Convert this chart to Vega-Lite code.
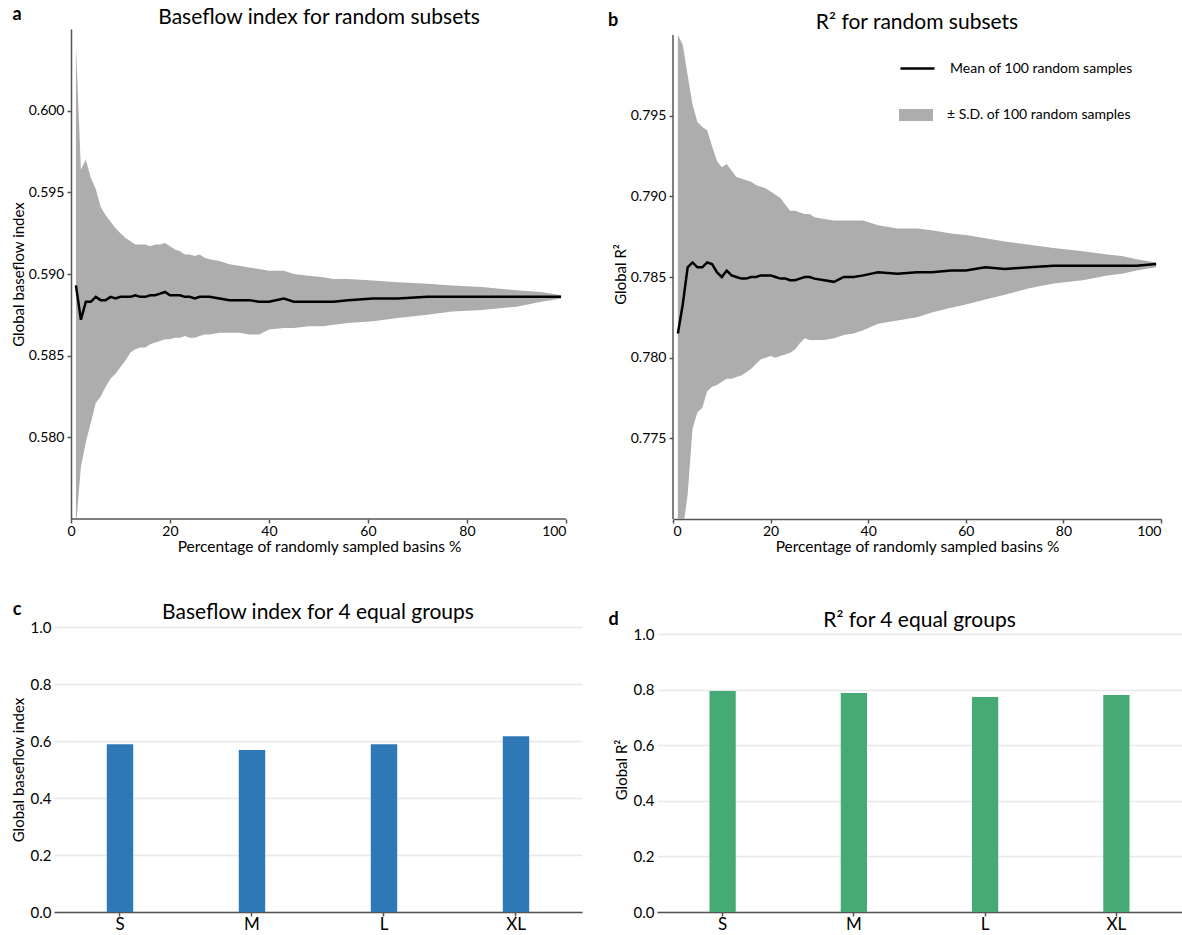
{
  "$schema": "https://vega.github.io/schema/vega-lite/v6.json",
  "background": "white",
  "padding": {"left": 11, "top": 6, "right": 0, "bottom": 0},
  "config": {
    "font": "Lato",
    "view": {"stroke": null},
    "axis": {"labelFont": "Lato", "titleFont": "Lato", "labelColor": "#000", "titleColor": "#000", "titleFontWeight": "normal", "domainColor": "#555", "tickColor": "#555", "domainWidth": 1.5, "tickWidth": 1.5, "tickSize": 4, "labelFontSize": 14, "titleFontSize": 16, "grid": false},
    "title": {"font": "Lato", "fontWeight": "normal", "color": "#000", "fontSize": 21, "anchor": "middle"},
    "legend": {"labelFont": "Lato"}
  },
  "datasets": {
    "a": [
      {"x": 1, "mean": 0.5893, "lo": 0.5745, "hi": 0.6040},
      {"x": 2, "mean": 0.5872, "lo": 0.5782, "hi": 0.5964},
      {"x": 3, "mean": 0.5883, "lo": 0.5797, "hi": 0.5970},
      {"x": 4, "mean": 0.5883, "lo": 0.5809, "hi": 0.5959},
      {"x": 5, "mean": 0.5886, "lo": 0.5821, "hi": 0.5952},
      {"x": 6, "mean": 0.5884, "lo": 0.5825, "hi": 0.5941},
      {"x": 7, "mean": 0.5884, "lo": 0.5831, "hi": 0.5936},
      {"x": 8, "mean": 0.5886, "lo": 0.5836, "hi": 0.5932},
      {"x": 9, "mean": 0.5885, "lo": 0.5839, "hi": 0.5928},
      {"x": 10, "mean": 0.5886, "lo": 0.5843, "hi": 0.5925},
      {"x": 11, "mean": 0.5886, "lo": 0.5847, "hi": 0.5922},
      {"x": 12, "mean": 0.5886, "lo": 0.5852, "hi": 0.5920},
      {"x": 13, "mean": 0.5887, "lo": 0.5854, "hi": 0.5918},
      {"x": 14, "mean": 0.5886, "lo": 0.5855, "hi": 0.5918},
      {"x": 15, "mean": 0.5886, "lo": 0.5855, "hi": 0.5918},
      {"x": 16, "mean": 0.5887, "lo": 0.5857, "hi": 0.5917},
      {"x": 17, "mean": 0.5887, "lo": 0.5858, "hi": 0.5918},
      {"x": 18, "mean": 0.5888, "lo": 0.5859, "hi": 0.5918},
      {"x": 19, "mean": 0.5889, "lo": 0.5860, "hi": 0.5919},
      {"x": 20, "mean": 0.5887, "lo": 0.5860, "hi": 0.5917},
      {"x": 21, "mean": 0.5887, "lo": 0.5861, "hi": 0.5915},
      {"x": 22, "mean": 0.5887, "lo": 0.5861, "hi": 0.5914},
      {"x": 23, "mean": 0.5886, "lo": 0.5862, "hi": 0.5912},
      {"x": 24, "mean": 0.5886, "lo": 0.5861, "hi": 0.5912},
      {"x": 25, "mean": 0.5885, "lo": 0.5861, "hi": 0.5911},
      {"x": 26, "mean": 0.5886, "lo": 0.5862, "hi": 0.5912},
      {"x": 27, "mean": 0.5886, "lo": 0.5863, "hi": 0.5910},
      {"x": 28, "mean": 0.5886, "lo": 0.5863, "hi": 0.5909},
      {"x": 30, "mean": 0.5885, "lo": 0.5864, "hi": 0.5908},
      {"x": 32, "mean": 0.5884, "lo": 0.5864, "hi": 0.5906},
      {"x": 34, "mean": 0.5884, "lo": 0.5864, "hi": 0.5905},
      {"x": 36, "mean": 0.5884, "lo": 0.5863, "hi": 0.5904},
      {"x": 38, "mean": 0.5883, "lo": 0.5863, "hi": 0.5903},
      {"x": 40, "mean": 0.5883, "lo": 0.5866, "hi": 0.5902},
      {"x": 43, "mean": 0.5885, "lo": 0.5867, "hi": 0.5902},
      {"x": 45, "mean": 0.5883, "lo": 0.5867, "hi": 0.5900},
      {"x": 48, "mean": 0.5883, "lo": 0.5868, "hi": 0.5899},
      {"x": 51, "mean": 0.5883, "lo": 0.5868, "hi": 0.5898},
      {"x": 53, "mean": 0.5883, "lo": 0.5869, "hi": 0.5897},
      {"x": 56, "mean": 0.5884, "lo": 0.5870, "hi": 0.5897},
      {"x": 61, "mean": 0.5885, "lo": 0.5871, "hi": 0.5896},
      {"x": 66, "mean": 0.5885, "lo": 0.5873, "hi": 0.5895},
      {"x": 72, "mean": 0.5886, "lo": 0.5875, "hi": 0.5894},
      {"x": 77, "mean": 0.5886, "lo": 0.5877, "hi": 0.5893},
      {"x": 83, "mean": 0.5886, "lo": 0.5878, "hi": 0.5892},
      {"x": 90, "mean": 0.5886, "lo": 0.5880, "hi": 0.5890},
      {"x": 95, "mean": 0.5886, "lo": 0.5883, "hi": 0.5889},
      {"x": 99, "mean": 0.5886, "lo": 0.5885, "hi": 0.5887}
    ],
    "b": [
      {"x": 1, "mean": 0.7815, "lo": 0.7690, "hi": 0.8000},
      {"x": 2, "mean": 0.7833, "lo": 0.7693, "hi": 0.7994},
      {"x": 3, "mean": 0.7856, "lo": 0.7715, "hi": 0.7975},
      {"x": 4, "mean": 0.7859, "lo": 0.7756, "hi": 0.7957},
      {"x": 5, "mean": 0.7856, "lo": 0.7766, "hi": 0.7946},
      {"x": 6, "mean": 0.7856, "lo": 0.7769, "hi": 0.7943},
      {"x": 7, "mean": 0.7859, "lo": 0.7779, "hi": 0.7941},
      {"x": 8, "mean": 0.7858, "lo": 0.7782, "hi": 0.7931},
      {"x": 9, "mean": 0.7853, "lo": 0.7783, "hi": 0.7922},
      {"x": 10, "mean": 0.7850, "lo": 0.7785, "hi": 0.7918},
      {"x": 11, "mean": 0.7854, "lo": 0.7787, "hi": 0.7920},
      {"x": 12, "mean": 0.7851, "lo": 0.7787, "hi": 0.7916},
      {"x": 13, "mean": 0.7850, "lo": 0.7788, "hi": 0.7912},
      {"x": 14, "mean": 0.7849, "lo": 0.7789, "hi": 0.7911},
      {"x": 15, "mean": 0.7849, "lo": 0.7791, "hi": 0.7910},
      {"x": 16, "mean": 0.7850, "lo": 0.7793, "hi": 0.7909},
      {"x": 17, "mean": 0.7850, "lo": 0.7796, "hi": 0.7907},
      {"x": 18, "mean": 0.7851, "lo": 0.7799, "hi": 0.7906},
      {"x": 19, "mean": 0.7851, "lo": 0.7800, "hi": 0.7905},
      {"x": 20, "mean": 0.7851, "lo": 0.7801, "hi": 0.7903},
      {"x": 21, "mean": 0.7850, "lo": 0.7800, "hi": 0.7901},
      {"x": 22, "mean": 0.7849, "lo": 0.7801, "hi": 0.7899},
      {"x": 23, "mean": 0.7849, "lo": 0.7802, "hi": 0.7895},
      {"x": 24, "mean": 0.7848, "lo": 0.7803, "hi": 0.7891},
      {"x": 25, "mean": 0.7848, "lo": 0.7805, "hi": 0.7891},
      {"x": 26, "mean": 0.7849, "lo": 0.7809, "hi": 0.7890},
      {"x": 27, "mean": 0.7850, "lo": 0.7812, "hi": 0.7889},
      {"x": 28, "mean": 0.7850, "lo": 0.7811, "hi": 0.7889},
      {"x": 29, "mean": 0.7849, "lo": 0.7811, "hi": 0.7887},
      {"x": 31, "mean": 0.7848, "lo": 0.7811, "hi": 0.7886},
      {"x": 33, "mean": 0.7847, "lo": 0.7812, "hi": 0.7885},
      {"x": 35, "mean": 0.7850, "lo": 0.7814, "hi": 0.7885},
      {"x": 37, "mean": 0.7850, "lo": 0.7815, "hi": 0.7885},
      {"x": 39, "mean": 0.7851, "lo": 0.7817, "hi": 0.7885},
      {"x": 42, "mean": 0.7853, "lo": 0.7821, "hi": 0.7882},
      {"x": 46, "mean": 0.7852, "lo": 0.7823, "hi": 0.7880},
      {"x": 50, "mean": 0.7853, "lo": 0.7825, "hi": 0.7880},
      {"x": 53, "mean": 0.7853, "lo": 0.7828, "hi": 0.7879},
      {"x": 57, "mean": 0.7854, "lo": 0.7831, "hi": 0.7877},
      {"x": 60, "mean": 0.7854, "lo": 0.7833, "hi": 0.7876},
      {"x": 64, "mean": 0.7856, "lo": 0.7836, "hi": 0.7874},
      {"x": 68, "mean": 0.7855, "lo": 0.7839, "hi": 0.7872},
      {"x": 73, "mean": 0.7856, "lo": 0.7843, "hi": 0.7870},
      {"x": 78, "mean": 0.7857, "lo": 0.7846, "hi": 0.7868},
      {"x": 84, "mean": 0.7857, "lo": 0.7848, "hi": 0.7866},
      {"x": 89, "mean": 0.7857, "lo": 0.7851, "hi": 0.7864},
      {"x": 92, "mean": 0.7857, "lo": 0.7852, "hi": 0.7863},
      {"x": 95, "mean": 0.7857, "lo": 0.7854, "hi": 0.7861},
      {"x": 99, "mean": 0.7858, "lo": 0.7856, "hi": 0.7859}
    ],
    "c": [
      {"group": "S", "value": 0.589},
      {"group": "M", "value": 0.568},
      {"group": "L", "value": 0.589},
      {"group": "XL", "value": 0.617}
    ],
    "d": [
      {"group": "S", "value": 0.795},
      {"group": "M", "value": 0.788},
      {"group": "L", "value": 0.773},
      {"group": "XL", "value": 0.781}
    ]
  },
  "resolve": {"scale": {"color": "independent", "fill": "independent"}, "legend": {"color": "independent", "fill": "independent"}},
  "columns": 1,
  "align": "none",
  "spacing": 46,
  "concat": [
    {
      "columns": 2,
      "align": "none",
      "spacing": 40,
      "resolve": {"scale": {"color": "independent", "fill": "independent"}, "legend": {"color": "independent", "fill": "independent"}},
      "concat": [
        {
          "width": 512,
          "height": 490,
          "title": {"text": "Baseflow index for random subsets", "offset": -22, "dx": 9},
          "layer": [
            {
              "data": {"name": "a"},
              "mark": {"type": "area", "color": "#adadad", "clip": true},
              "encoding": {
                "x": {"field": "x", "type": "quantitative", "scale": {"domain": [-3.434, 100], "nice": false},
                      "axis": {"title": "Percentage of randomly sampled basins %", "values": [0, 20, 40, 60, 80, 100], "domain": false, "titleFontSize": 15.5, "titlePadding": 1, "labelPadding": 1, "titleX": 265}},
                "y": {"field": "lo", "type": "quantitative", "scale": {"domain": [0.575, 0.605], "zero": false, "nice": false},
                      "axis": {"title": "Global baseflow index", "values": [0.58, 0.585, 0.59, 0.595, 0.6], "format": ".3f", "offset": -17, "titlePadding": 2, "labelPadding": 3, "titleFontSize": 15}},
                "y2": {"field": "hi"}
              }
            },
            {
              "data": {"name": "a"},
              "mark": {"type": "line", "color": "black", "strokeWidth": 2.5, "clip": true},
              "encoding": {
                "x": {"field": "x", "type": "quantitative"},
                "y": {"field": "mean", "type": "quantitative"}
              }
            },
            {
              "data": {"values": [{"edge": "bottom"}]},
              "mark": {"type": "rule", "color": "#555", "strokeWidth": 1.5},
              "encoding": {
                "x": {"datum": 0, "type": "quantitative"},
                "x2": {"datum": 100},
                "y": {"datum": 0.575, "type": "quantitative"}
              }
            },
            {
              "data": {"values": [{"panel": "a"}]},
              "mark": {"type": "text", "fontWeight": "bold", "fontSize": 18, "dx": -54, "dy": -14, "align": "center", "baseline": "middle"},
              "encoding": {
                "x": {"datum": 0, "type": "quantitative"},
                "y": {"datum": 0.605, "type": "quantitative"},
                "text": {"field": "panel"}
              }
            }
          ]
        },
        {
          "width": 488,
          "height": 490,
          "title": {"text": "R² for random subsets", "offset": -21},
          "layer": [
            {
              "data": {"name": "b"},
              "mark": {"type": "area", "clip": true, "opacity": 1},
              "encoding": {
                "x": {"field": "x", "type": "quantitative", "scale": {"domain": [0, 100], "nice": false},
                      "axis": {"title": "Percentage of randomly sampled basins %", "values": [0, 20, 40, 60, 80, 100], "titleFontSize": 15.5, "titlePadding": 1, "labelPadding": 1}},
                "y": {"field": "lo", "type": "quantitative", "scale": {"domain": [0.77, 0.800372], "zero": false, "nice": false},
                      "axis": {"title": "Global R²", "values": [0.775, 0.78, 0.785, 0.79, 0.795], "format": ".3f", "domain": false, "titlePadding": 2, "labelPadding": 3, "titleFontSize": 15}},
                "y2": {"field": "hi"},
                "fill": {"datum": "± S.D. of 100 random samples", "type": "nominal",
                         "scale": {"range": ["#adadad"]},
                         "legend": {"title": null, "orient": "none", "legendX": 226, "legendY": 69, "padding": 0,
                                    "labelFontSize": 14, "labelColor": "black", "labelOffset": 14, "labelLimit": 400,
                                    "symbolType": "M-1,-0.36L1,-0.36L1,0.36L-1,0.36Z", "symbolSize": 1156, "symbolStrokeWidth": 0, "symbolOpacity": 1}}
              }
            },
            {
              "data": {"name": "b"},
              "mark": {"type": "line", "strokeWidth": 2.5, "clip": true},
              "encoding": {
                "x": {"field": "x", "type": "quantitative"},
                "y": {"field": "mean", "type": "quantitative"},
                "color": {"datum": "Mean of 100 random samples", "type": "nominal",
                          "scale": {"range": ["black"]},
                          "legend": {"title": null, "orient": "none", "legendX": 226, "legendY": 21, "padding": 0,
                                     "labelFontSize": 14, "labelColor": "black", "labelOffset": 14, "labelLimit": 400,
                                     "symbolType": "stroke", "symbolSize": 1156, "symbolStrokeWidth": 2.5, "symbolOpacity": 1}}
              }
            },
            {
              "data": {"values": [{"edge": "left"}]},
              "mark": {"type": "rule", "color": "#555", "strokeWidth": 1.5},
              "encoding": {
                "x": {"datum": 0, "type": "quantitative"},
                "y": {"datum": 0.77, "type": "quantitative"},
                "y2": {"datum": 0.8}
              }
            },
            {
              "data": {"values": [{"panel": "b"}]},
              "mark": {"type": "text", "fontWeight": "bold", "fontSize": 18, "dx": -60, "dy": -14, "align": "center", "baseline": "middle", "color": "black"},
              "encoding": {
                "x": {"datum": 0, "type": "quantitative"},
                "y": {"datum": 0.8, "type": "quantitative"},
                "text": {"field": "panel"}
              }
            }
          ]
        }
      ]
    },
    {
      "columns": 2,
      "align": "none",
      "spacing": 26,
      "concat": [
        {
          "width": 528,
          "height": 285,
          "title": {"text": "Baseflow index for 4 equal groups", "offset": -22},
          "layer": [
            {
              "data": {"name": "c"},
              "mark": {"type": "bar", "color": "#2e78b8"},
              "encoding": {
                "x": {"field": "group", "type": "nominal", "sort": ["S", "M", "L", "XL"], "scale": {"paddingInner": 0.8, "paddingOuter": 0.4},
                      "axis": {"title": null, "labelAngle": 0, "labelFontSize": 17, "labelPadding": 0}},
                "y": {"field": "value", "type": "quantitative", "scale": {"domain": [0, 1], "nice": false},
                      "axis": {"title": "Global baseflow index", "values": [0, 0.2, 0.4, 0.6, 0.8, 1.0], "format": ".1f", "grid": true, "gridColor": "#e8e8e8", "gridWidth": 1.5, "domain": false, "ticks": false, "labelFontSize": 15, "labelPadding": 3, "titlePadding": 4, "titleFontSize": 15}}
              }
            },
            {
              "data": {"values": [{"panel": "c"}]},
              "mark": {"type": "text", "fontWeight": "bold", "fontSize": 18, "dx": -103, "dy": -17, "align": "center", "baseline": "middle"},
              "encoding": {
                "x": {"datum": "S", "type": "nominal"},
                "y": {"datum": 1.0, "type": "quantitative"},
                "text": {"field": "panel"}
              }
            }
          ]
        },
        {
          "width": 525,
          "height": 285,
          "title": {"text": "R² for 4 equal groups", "offset": -20},
          "layer": [
            {
              "data": {"name": "d"},
              "mark": {"type": "bar", "color": "#46aa74"},
              "encoding": {
                "x": {"field": "group", "type": "nominal", "sort": ["S", "M", "L", "XL"], "scale": {"paddingInner": 0.8, "paddingOuter": 0.4},
                      "axis": {"title": null, "labelAngle": 0, "labelFontSize": 17, "labelPadding": 0}},
                "y": {"field": "value", "type": "quantitative", "scale": {"domain": [0, 1.0252], "nice": false},
                      "axis": {"title": "Global R²", "values": [0, 0.2, 0.4, 0.6, 0.8, 1.0], "format": ".1f", "grid": true, "gridColor": "#e8e8e8", "gridWidth": 1.5, "domain": false, "ticks": false, "labelFontSize": 15, "labelPadding": 3, "titlePadding": 4, "titleFontSize": 15}}
              }
            },
            {
              "data": {"values": [{"panel": "d"}]},
              "mark": {"type": "text", "fontWeight": "bold", "fontSize": 18, "dx": -109, "dy": -14, "align": "center", "baseline": "middle"},
              "encoding": {
                "x": {"datum": "S", "type": "nominal"},
                "y": {"datum": 1.0, "type": "quantitative"},
                "text": {"field": "panel"}
              }
            }
          ]
        }
      ]
    }
  ]
}
